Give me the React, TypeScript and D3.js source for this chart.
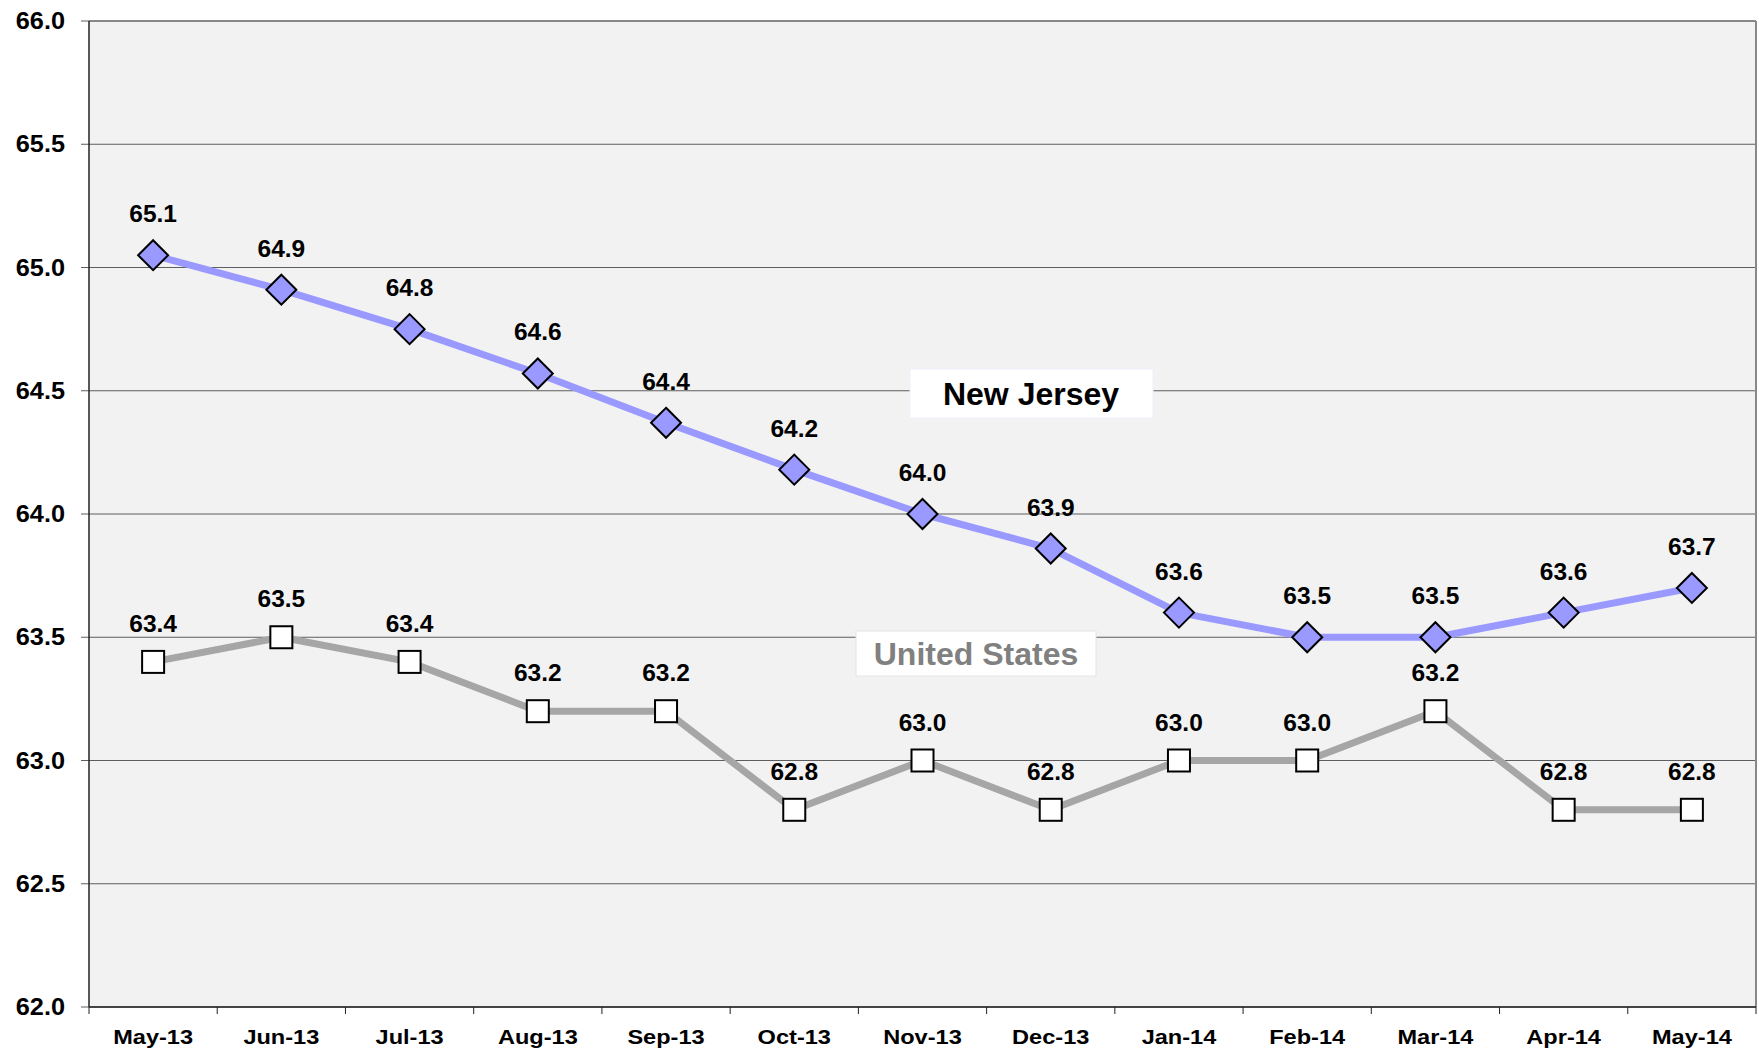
import React from 'react';
import { scaleLinear, scaleBand, line, range } from 'd3';

const months = ['May-13', 'Jun-13', 'Jul-13', 'Aug-13', 'Sep-13', 'Oct-13', 'Nov-13', 'Dec-13', 'Jan-14', 'Feb-14', 'Mar-14', 'Apr-14', 'May-14'];
const njValues = [65.05, 64.91, 64.75, 64.57, 64.37, 64.18, 64.0, 63.86, 63.6, 63.5, 63.5, 63.6, 63.7];
const njLabels = ['65.1', '64.9', '64.8', '64.6', '64.4', '64.2', '64.0', '63.9', '63.6', '63.5', '63.5', '63.6', '63.7'];
const usValues = [63.4, 63.5, 63.4, 63.2, 63.2, 62.8, 63.0, 62.8, 63.0, 63.0, 63.2, 62.8, 62.8];
const usLabels = ['63.4', '63.5', '63.4', '63.2', '63.2', '62.8', '63.0', '62.8', '63.0', '63.0', '63.2', '62.8', '62.8'];
const yTicks = [62.0, 62.5, 63.0, 63.5, 64.0, 64.5, 65.0, 65.5, 66.0];

const W = 1759;
const H = 1052;
const left = 89;
const right = 1756;
const top = 21;
const bottom = 1007;
const font = 'Arial, "Liberation Sans", sans-serif';

const App = () => {
    const x = scaleBand().domain(months).range([left, right]);
    const y = scaleLinear().domain([62, 66]).range([bottom, top]);
    const cx = (m) => x(m) + x.bandwidth() / 2;

    const valueLine = line()
        .x((d, i) => cx(months[i]))
        .y(d => y(d));

    return (
        <svg width={W} height={H} style={{ position: 'absolute', left: 0, top: 0, fontFamily: font }}>
            <rect x={0} y={0} width={W} height={H} fill="#ffffff" />
            <rect x={left} y={top} width={right - left} height={bottom - top} fill="#f2f2f2" />
            {yTicks.map(t => (
                <g key={t}>
                    <line x1={left - 8} x2={right} y1={y(t)} y2={y(t)} stroke="#5e5e5e" strokeWidth={1} />
                    <text transform={`translate(65,${y(t) + 8}) scale(1.1,1)`} textAnchor="end" fontSize={23} fontWeight="bold" fill="#000">{t.toFixed(1)}</text>
                </g>
            ))}
            <line x1={left} x2={right} y1={top} y2={top} stroke="#888" strokeWidth={2} />
            <line x1={right} x2={right} y1={top} y2={bottom} stroke="#888" strokeWidth={2} />
            <line x1={left} x2={left} y1={top} y2={bottom} stroke="#222" strokeWidth={1.5} />
            <line x1={left} x2={right} y1={bottom} y2={bottom} stroke="#222" strokeWidth={1.5} />
            {range(months.length + 1).map(i => {
                const xx = left + i * x.bandwidth();
                return <line key={i} x1={xx} x2={xx} y1={bottom} y2={bottom + 7} stroke="#222" strokeWidth={1} />;
            })}
            {months.map(m => (
                <text key={m} transform={`translate(${cx(m)},1044) scale(1.15,1)`} textAnchor="middle" fontSize={20.5} fontWeight="bold" fill="#000">{m}</text>
            ))}

            <path d={valueLine(usValues)} fill="none" stroke="#a6a6a6" strokeWidth={7} strokeLinejoin="round" />
            <path d={valueLine(njValues)} fill="none" stroke="#9999ff" strokeWidth={7} strokeLinejoin="round" />

            {usValues.map((v, i) => (
                <rect key={'us' + i} x={cx(months[i]) - 11} y={y(v) - 11} width={22} height={22} fill="#fff" stroke="#000" strokeWidth={2} />
            ))}
            {njValues.map((v, i) => {
                const px = cx(months[i]);
                const py = y(v);
                const r = 15;
                return <path key={'nj' + i} d={`M${px},${py - r}L${px + r},${py}L${px},${py + r}L${px - r},${py}Z`} fill="#9999ff" stroke="#000" strokeWidth={2} />;
            })}

            {usValues.map((v, i) => (
                <text key={'usl' + i} x={cx(months[i])} y={y(v) - 30} textAnchor="middle" fontSize={24.5} fontWeight="bold" fill="#000">{usLabels[i]}</text>
            ))}
            {njValues.map((v, i) => (
                <text key={'njl' + i} x={cx(months[i])} y={y(v) - 33} textAnchor="middle" fontSize={24.5} fontWeight="bold" fill="#000">{njLabels[i]}</text>
            ))}

            <rect x={910} y={369} width={243} height={49} fill="#fff" stroke="#eeeefa" strokeWidth={1} />
            <text x={1031} y={405} textAnchor="middle" fontSize={32} fontWeight="bold" fill="#000">New Jersey</text>
            <rect x={856} y={631} width={240} height={45} fill="#fff" stroke="#e4e4e4" strokeWidth={1} />
            <text x={976} y={665} textAnchor="middle" fontSize={32} fontWeight="bold" fill="#808080">United States</text>
        </svg>
    );
};

export default App;
